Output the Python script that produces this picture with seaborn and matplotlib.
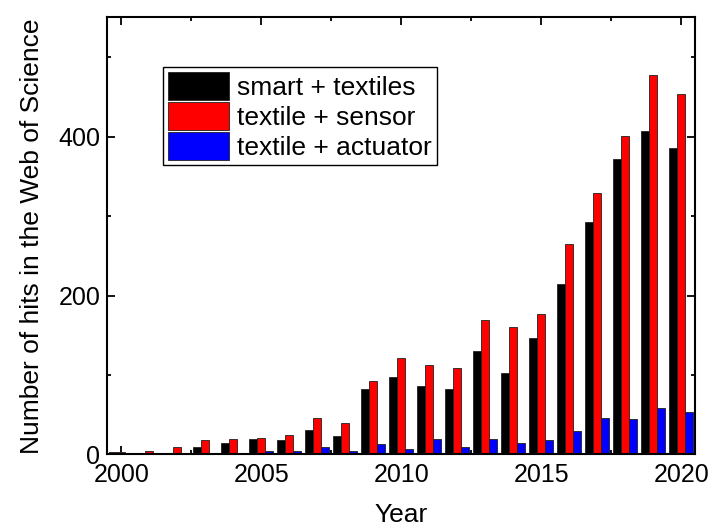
import numpy as np
import pandas as pd
import matplotlib
matplotlib.use('Agg')
import matplotlib.pyplot as plt
import seaborn as sns
from matplotlib.ticker import MultipleLocator
from matplotlib.patches import Patch

# ====== DATA

years = list(range(2000, 2021))
smart_textiles = [3, 1, 2, 9, 14, 20, 18, 31, 23, 83, 97, 86, 83, 130, 103, 147, 214, 292, 372, 407, 385]
textile_sensor = [3, 5, 9, 18, 20, 21, 24, 46, 40, 93, 122, 112, 109, 169, 160, 177, 265, 329, 401, 478, 454]
textile_actuator = [1, 0, 1, 2, 2, 4, 4, 10, 5, 13, 7, 20, 10, 19, 15, 18, 29, 46, 45, 59, 54]

labels = ['smart + textiles', 'textile + sensor', 'textile + actuator']
colors = ['#000000', '#ff0000', '#0000ff']

df = pd.concat([
    pd.DataFrame({'year': years, 'hits': smart_textiles, 'query': labels[0]}),
    pd.DataFrame({'year': years, 'hits': textile_sensor, 'query': labels[1]}),
    pd.DataFrame({'year': years, 'hits': textile_actuator, 'query': labels[2]}),
])

# ====== PLOT

sns.set_style('ticks')
plt.rcParams['font.family'] = ['Liberation Sans', 'DejaVu Sans']
plt.rcParams['font.size'] = 18
for key in ['text.color', 'axes.labelcolor', 'xtick.color', 'ytick.color', 'axes.edgecolor']:
    plt.rcParams[key] = 'black'

fig, ax = plt.subplots(figsize=(7.13, 5.32), dpi=100)
fig.subplots_adjust(left=0.1505, right=0.975, top=0.9675, bottom=0.1457)

sns.barplot(data=df, x='year', y='hits', hue='query', hue_order=labels,
            palette=colors, native_scale=True, width=0.86, gap=0,
            edgecolor='#202020', linewidth=0.6, saturation=1,
            legend=False, ax=ax)

ax.set_xlim(1999.5, 2020.5)
ax.set_ylim(0, 550)
ax.xaxis.set_major_locator(MultipleLocator(5))
ax.xaxis.set_minor_locator(MultipleLocator(2.5))
ax.yaxis.set_major_locator(MultipleLocator(200))
ax.yaxis.set_minor_locator(MultipleLocator(100))

ax.tick_params(which='both', direction='in', top=True, right=True, width=1.3, labelsize=18)
ax.tick_params(which='major', length=6)
ax.tick_params(which='minor', length=3)
ax.tick_params(axis='x', pad=6)
ax.tick_params(axis='y', pad=5)
for side in ax.spines.values():
    side.set_linewidth(1.5)

ax.set_xlabel('Year', fontsize=19, labelpad=12)
ax.set_ylabel('Number of hits in the Web of Science', fontsize=19, labelpad=10)

handles = [Patch(facecolor=c, edgecolor='#202020', linewidth=0.6) for c in colors]
ax.legend(handles, labels, loc='upper left', bbox_to_anchor=(0.095, 0.887),
          fontsize=19, frameon=True, fancybox=False, edgecolor='black',
          framealpha=1, handlelength=2.3, handleheight=1.25, labelspacing=0.08,
          borderpad=0.2, handletextpad=0.3, borderaxespad=0)

fig.savefig('out.png', dpi=100)
plt.close()
